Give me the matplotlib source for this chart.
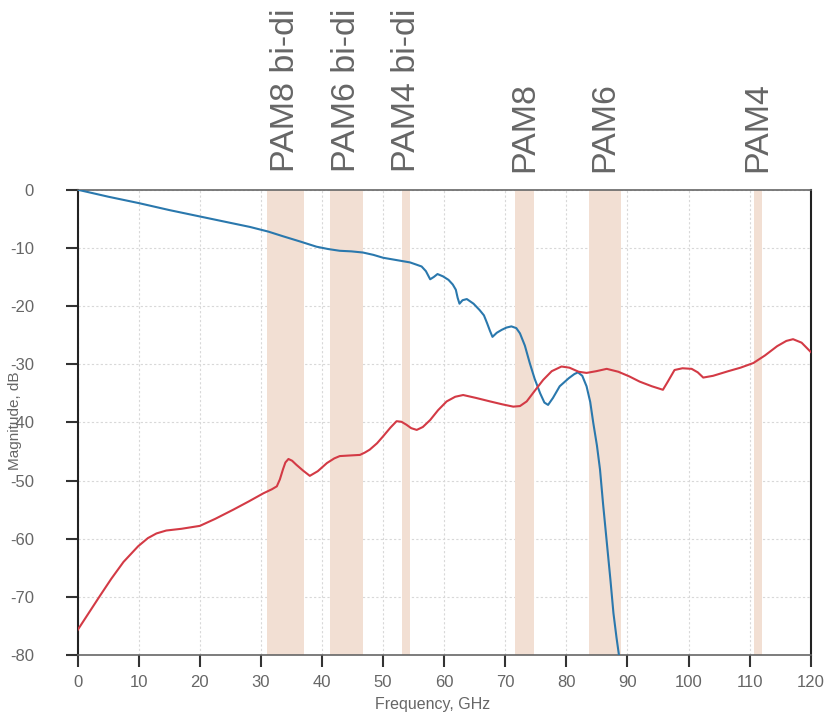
#Insertion loss (blue) and crosstalk (red) vs frequency, with PAM bands marked
import matplotlib
matplotlib.use("Agg")
import matplotlib.pyplot as plt
import matplotlib.transforms as mtransforms

plt.rcParams["font.family"] = ["Liberation Sans", "DejaVu Sans"]
plt.rcParams["axes.unicode_minus"] = False

# blue trace
blue_f = [0, 5, 10, 15, 20, 25, 28.2, 31.2, 33.6, 36.4, 39.1, 41.0, 42.9, 44.8, 46.7,
          48.4, 50.0, 52.2, 54.4, 55.5, 56.3, 57.0, 57.7, 58.3, 58.9, 59.8, 60.7, 61.4,
          61.9, 62.2, 62.5, 63.0, 63.7, 64.8, 65.8, 66.5, 67.0, 67.5, 67.9, 68.6, 69.4,
          70.2, 71.0, 71.8, 72.4, 73.2, 74.0, 74.8, 75.7, 76.4, 77.0, 77.8, 78.9, 80.4,
          81.3, 81.9, 82.6, 83.3, 83.9, 84.4, 85.0, 85.5, 86.0, 86.6, 87.2, 87.7, 88.2, 88.6]
blue_db = [0, -1.2, -2.3, -3.5, -4.6, -5.7, -6.4, -7.2, -8.0, -8.9, -9.8, -10.2, -10.5,
           -10.6, -10.8, -11.2, -11.7, -12.1, -12.5, -12.9, -13.2, -14.0, -15.4, -15.0,
           -14.5, -14.9, -15.5, -16.3, -17.2, -18.6, -19.6, -19.0, -18.8, -19.6, -20.7,
           -21.6, -22.9, -24.3, -25.3, -24.6, -24.1, -23.7, -23.5, -23.8, -24.7, -26.8,
           -29.8, -32.5, -35.0, -36.6, -37.0, -35.8, -33.8, -32.4, -31.7, -31.4, -32.0,
           -33.8, -36.5, -40.1, -44.0, -48.1, -54.0, -60.5, -67.0, -72.8, -77.0, -80]

# red trace
red_f = [0, 1.8, 3.6, 5.5, 7.5, 9.9, 11.5, 12.9, 14.5, 17.0, 20.0, 22.5, 25.5, 28.0,
         30.4, 31.8, 32.6, 33.1, 33.6, 34.0, 34.5, 35.1, 35.8, 36.9, 38.0, 39.3, 40.8,
         42.0, 42.9, 44.5, 46.2, 47.0, 47.8, 49.0, 50.0, 51.2, 52.2, 53.0, 53.8, 54.6,
         55.5, 56.5, 57.7, 59.0, 60.4, 61.8, 63.1, 65.2, 67.5, 69.5, 71.3, 72.4, 73.5,
         74.8, 76.2, 77.6, 79.2, 80.5, 82.0, 83.3, 84.9, 86.6, 88.5, 90.3, 92.0, 94.0,
         95.8, 96.6, 97.7, 99.0, 100.5, 101.5, 102.4, 104.0, 106.5, 108.5, 110.6, 112.5,
         114.5, 116.0, 117.1, 118.5, 120.0]
red_db = [-75.7, -72.8, -69.9, -66.9, -64.0, -61.3, -59.9, -59.1, -58.6, -58.3, -57.8,
          -56.6, -55.0, -53.6, -52.2, -51.5, -51.0, -49.8, -48.1, -46.9, -46.3, -46.6,
          -47.3, -48.3, -49.2, -48.4, -47.0, -46.2, -45.8, -45.7, -45.6, -45.2, -44.7,
          -43.6, -42.4, -40.9, -39.8, -39.9, -40.4, -41.0, -41.3, -40.8, -39.6, -37.9,
          -36.4, -35.6, -35.3, -35.8, -36.4, -36.9, -37.3, -37.2, -36.4, -34.6, -32.7,
          -31.2, -30.4, -30.6, -31.3, -31.5, -31.2, -30.8, -31.3, -32.1, -33.0, -33.8,
          -34.4, -33.0, -31.0, -30.7, -30.8, -31.4, -32.3, -32.0, -31.2, -30.6, -29.8,
          -28.5, -26.9, -26.0, -25.7, -26.3, -27.9]

# frequency bands
band_labels = ["PAM8 bi-di", "PAM6 bi-di", "PAM4 bi-di", "PAM8", "PAM6", "PAM4"]
band_start = [31.0, 41.3, 53.1, 71.6, 83.7, 110.7]
band_end = [37.0, 46.7, 54.4, 74.7, 89.0, 112.0]

fig = plt.figure(figsize=(8.29, 7.17), dpi=100)
ax = fig.add_axes([0.0937, 0.0865, 0.8843, 0.6489])

for s, e in zip(band_start, band_end):
    ax.axvspan(s, e, color="#f2dfd3", lw=0, zorder=1)

ax.plot(blue_f, blue_db, color="#2a78ad", lw=1.5, zorder=3)
ax.plot(red_f, red_db, color="#d33a45", lw=1.5, zorder=3)

ax.set_xlim(0, 120)
ax.set_ylim(-80, 0)
ax.set_xticks(range(0, 121, 10))
ax.set_yticks(range(-80, 1, 10))
ax.grid(True, color="#d8d8d8", linestyle=(0, (2, 2)), lw=0.8, zorder=0)
ax.set_axisbelow(True)

ax.tick_params(direction="out", length=8.5, width=1.5, color="#333333",
               labelcolor="#666666", labelsize=12)
ax.tick_params(axis="x", pad=6)
ax.tick_params(axis="y", pad=23)
for side in ["left", "right"]:
    ax.spines[side].set_color("#222222")
    ax.spines[side].set_linewidth(1.5)
for side in ["top", "bottom"]:
    ax.spines[side].set_color("#666666")
    ax.spines[side].set_linewidth(1.2)

fig.text(433 / 829, 1 - 705 / 717, "Frequency, GHz",
         color="#666666", fontsize=11.5, ha="center", va="center")
#the y label sits on top of the tick labels, as in the original
fig.text(15 / 829, 1 - 421 / 717, "Magnitude, dB", color="#666666", fontsize=11,
         rotation=90, ha="center", va="center")

trans = mtransforms.blended_transform_factory(ax.transData, fig.transFigure)
for lab, s, e in zip(band_labels, band_start, band_end):
    ax.text((s + e) / 2, 1 - 172 / 717, lab, transform=trans, rotation=90,
            ha="center", va="bottom", color="#666666", fontsize=24.5)

fig.savefig("out.png", dpi=100)
